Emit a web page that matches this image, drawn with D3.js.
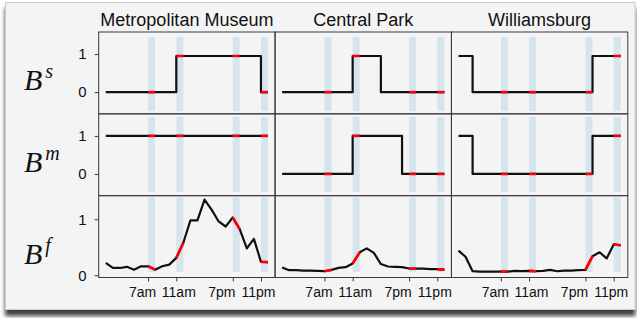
<!DOCTYPE html>
<html>
<head>
<meta charset="utf-8">
<script src="https://cdn.jsdelivr.net/npm/d3@7"></script>
<style>
  body { margin: 0; background: #fff; }
</style>
</head>
<body>
<script>
// ---- data ----
const locations = ["Metropolitan Museum", "Central Park", "Williamsburg"];
const rowSymbols = ["s", "m", "f"];
const hours = [1, 2, 3, 4, 5, 6, 7, 8, 9, 10, 11, 12, 13, 14, 15, 16, 17, 18, 19, 20, 21, 22, 23, 24];
const tickHours = [7, 11, 19, 23];
const tickLabels = ["7am", "11am", "7pm", "11pm"];
const yTicks = [0, 1];

// B^s (step)
const bsMet  = [0, 0, 0, 0, 0, 0, 0, 0, 0, 0, 0.95, 0.95, 0.95, 0.95, 0.95, 0.95, 0.95, 0.95, 0.95, 0.95, 0.95, 0.95, 0, 0];
const bsPark = [0, 0, 0, 0, 0, 0, 0, 0, 0, 0, 0.95, 0.95, 0.95, 0.95, 0, 0, 0, 0, 0, 0, 0, 0, 0, 0];
const bsWill = [0.95, 0.95, 0, 0, 0, 0, 0, 0, 0, 0, 0, 0, 0, 0, 0, 0, 0, 0, 0, 0.95, 0.95, 0.95, 0.95, 0.95];
// B^m (step)
const bmMet  = [1, 1, 1, 1, 1, 1, 1, 1, 1, 1, 1, 1, 1, 1, 1, 1, 1, 1, 1, 1, 1, 1, 1, 1];
const bmPark = [0, 0, 0, 0, 0, 0, 0, 0, 0, 0, 1, 1, 1, 1, 1, 1, 1, 0, 0, 0, 0, 0, 0, 0];
const bmWill = [1, 1, 0, 0, 0, 0, 0, 0, 0, 0, 0, 0, 0, 0, 0, 0, 0, 0, 0, 1, 1, 1, 1, 1];
// B^f (line)
const bfMet  = [0.22, 0.13, 0.13, 0.15, 0.10, 0.16, 0.16, 0.10, 0.16, 0.19, 0.31, 0.58, 0.98, 0.98, 1.35, 1.17, 0.96, 0.87, 1.03, 0.82, 0.48, 0.65, 0.24, 0.235];
const bfPark = [0.14, 0.09, 0.09, 0.084, 0.084, 0.078, 0.072, 0.096, 0.132, 0.144, 0.21, 0.41, 0.48, 0.40, 0.20, 0.156, 0.15, 0.144, 0.12, 0.12, 0.12, 0.108, 0.108, 0.10];
const bfWill = [0.44, 0.33, 0.072, 0.066, 0.066, 0.066, 0.066, 0.066, 0.078, 0.072, 0.078, 0.072, 0.078, 0.096, 0.072, 0.084, 0.084, 0.09, 0.096, 0.34, 0.41, 0.30, 0.55, 0.535];

const series = [
  [bsMet, bsPark, bsWill],
  [bmMet, bmPark, bmWill],
  [bfMet, bfPark, bfWill]
];

// ---- layout ----
const width = 637;
const height = 318;
const margin = { top: 32, right: 9.2, bottom: 40.5, left: 98.7 };
const pw = (width - margin.left - margin.right) / 3;
const ph = (height - margin.top - margin.bottom) / 3;

const yDomains = [[-0.57, 1.58], [-0.57, 1.58], [-0.04, 1.42]];
const bandRanges = [[-0.5, 1.45], [-0.47, 1.5], [0.06, 1.395]];
const labelNudge = [-6, 2, -11.5, -3];

const svg = d3.create("svg")
  .attr("viewBox", [0, 0, width, height])
  .attr("width", width)
  .attr("height", height)
  .style("font-family", "'Liberation Sans', Arial, sans-serif");

const filter = svg.append("defs").append("filter")
  .attr("id", "shadow")
  .attr("x", "-5%").attr("y", "-5%")
  .attr("width", "110%").attr("height", "120%");
filter.append("feDropShadow")
  .attr("dx", 0).attr("dy", 6)
  .attr("stdDeviation", 2.2)
  .attr("flood-color", "#000")
  .attr("flood-opacity", 0.75);

// frame
svg.append("rect")
  .attr("x", 5.5).attr("y", 2.5)
  .attr("width", 629.5).attr("height", 307)
  .attr("fill", "#f4f4f4")
  .attr("stroke", "#cccccc")
  .attr("filter", "url(#shadow)");

const x = d3.scaleLinear().domain([0, 25]).range([0, pw]);

// column titles
svg.append("g")
  .selectAll("text")
  .data(locations)
  .join("text")
  .attr("x", (d, i) => margin.left + pw * i + pw / 2)
  .attr("y", 26)
  .attr("text-anchor", "middle")
  .attr("font-size", 18)
  .attr("fill", "#111")
  .text(d => d);

for (let r = 0; r < 3; r++) {
  const y = d3.scaleLinear().domain(yDomains[r]).range([ph, 0]);
  const top = margin.top + ph * r;

  // row label B^x
  const lab = svg.append("text")
    .attr("x", 24)
    .attr("y", top + y(0.5) + 17)
    .attr("font-family", "'Liberation Serif', 'Times New Roman', serif")
    .attr("font-style", "italic")
    .attr("font-size", 30)
    .attr("fill", "#111");
  lab.append("tspan").text("B");
  lab.append("tspan")
    .attr("dx", 3)
    .attr("dy", -12)
    .attr("font-size", 20)
    .text(rowSymbols[r]);

  for (let c = 0; c < 3; c++) {
    const left = margin.left + pw * c;
    const vals = series[r][c];
    const pts = hours.map((h, i) => [h, vals[i]]);
    const g = svg.append("g").attr("transform", `translate(${left},${top})`);

    // highlight bands
    g.append("g")
      .selectAll("rect")
      .data(tickHours)
      .join("rect")
      .attr("x", d => x(d))
      .attr("width", d => x(d + 1) - x(d))
      .attr("y", y(bandRanges[r][1]))
      .attr("height", y(bandRanges[r][0]) - y(bandRanges[r][1]))
      .attr("fill", "#d6e4ec");

    const line = d3.line()
      .x(d => x(d[0]))
      .y(d => y(d[1]))
      .curve(r < 2 ? d3.curveStepAfter : d3.curveLinear);

    g.append("path")
      .attr("d", line(pts))
      .attr("fill", "none")
      .attr("stroke", "#111")
      .attr("stroke-width", 2.2)
      .attr("stroke-linejoin", "round");

    // red segments h -> h+1
    g.append("g")
      .selectAll("line")
      .data(tickHours)
      .join("line")
      .attr("x1", d => x(d))
      .attr("x2", d => x(d + 1))
      .attr("y1", d => y(vals[d - 1]))
      .attr("y2", d => y(r < 2 ? vals[d - 1] : vals[d]))
      .attr("stroke", "#ff0000")
      .attr("stroke-width", 2.6);

    // panel border
    g.append("rect")
      .attr("width", pw)
      .attr("height", ph)
      .attr("fill", "none")
      .attr("stroke", "#3a3a3a")
      .attr("stroke-width", 1);

    if (c === 0) {
      const ay = g.append("g")
        .call(d3.axisLeft(y).tickValues(yTicks).tickSize(4).tickPadding(8).tickFormat(d3.format("d")));
      ay.select(".domain").remove();
      ay.selectAll("line").attr("stroke", "#3a3a3a");
      ay.selectAll("text")
        .attr("font-size", 15)
        .attr("font-family", "'Liberation Sans', Arial, sans-serif")
        .attr("fill", "#111");
    }

    if (r === 2) {
      const ax = g.append("g")
        .attr("transform", `translate(0,${ph})`)
        .call(d3.axisBottom(x).tickValues(tickHours).tickSize(4).tickPadding(6).tickFormat((d, i) => tickLabels[i]));
      ax.select(".domain").remove();
      ax.selectAll("line").attr("stroke", "#3a3a3a");
      ax.selectAll("text")
        .attr("dx", (d, i) => labelNudge[i])
        .attr("font-size", 14)
        .attr("font-family", "'Liberation Sans', Arial, sans-serif")
        .attr("fill", "#111");
    }
  }
}

document.body.append(svg.node());
</script>
</body>
</html>
